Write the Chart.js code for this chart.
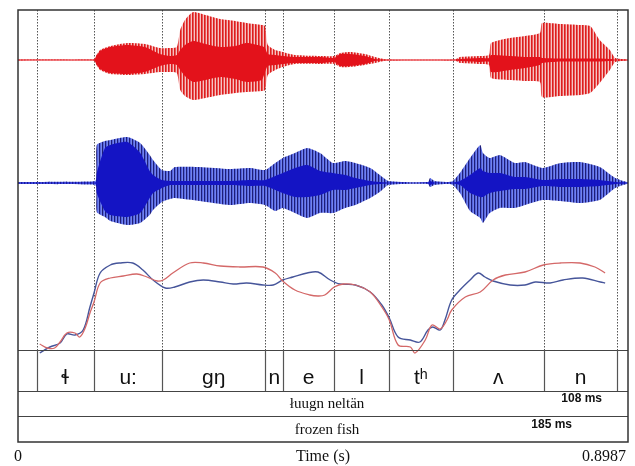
<!DOCTYPE html>
<html>
<head>
<meta charset="utf-8">
<script src="https://cdn.jsdelivr.net/npm/chart.js@4.4.1/dist/chart.umd.min.js"></script>
<style>
html,body{margin:0;padding:0;background:#fff;}
#wrap{width:635px;height:466px;}
</style>
</head>
<body>
<div id="wrap"><canvas id="c" width="635" height="466"></canvas></div>
<script>
// ---------- DATA ----------
const totalDuration = 0.8987; // s
// segment boundaries (s) and labels
const segBounds = [0.0276, 0.112, 0.2126, 0.3643, 0.3909, 0.4656, 0.5466, 0.6404, 0.7745, 0.8829];
const segLabels = ['ɬ', 'u:', 'gŋ', 'n', 'e', 'l', 'tʰ', 'ʌ', 'n'];
const wordLabel = 'łuugn neltän';
const glossLabel = 'frozen fish';
const durationNotes = ['108 ms', '185 ms'];
const axisLabels = ['0', 'Time (s)', '0.8987'];

// Red waveform envelope (arbitrary amplitude units)
const redT = [0, 0.112, 0.113, 0.121, 0.136, 0.161, 0.187, 0.209, 0.224, 0.234, 0.239, 0.246, 0.258, 0.276, 0.298, 0.320, 0.337, 0.359, 0.364, 0.368, 0.379, 0.390, 0.408, 0.445, 0.466, 0.475, 0.489, 0.511, 0.526, 0.544, 0.644, 0.651, 0.681, 0.694, 0.697, 0.725, 0.747, 0.769, 0.772, 0.799, 0.828, 0.843, 0.857, 0.872, 0.880, 0.8987];
const redOuterTop = [0.5, 0.5, 2, 10, 14, 17, 16, 12, 12, 13, 30, 40, 48, 45, 41, 39, 37, 35, 34, 15, 10, 8, 5, 4, 4, 7, 8, 6, 3, 0.5, 0.5, 3, 4, 5, 17, 22, 24, 27, 37, 36, 35, 34, 20, 10, 2, 0.5];
const redOuterBot = [-0.5, -0.5, -2, -10, -14, -15, -14, -12, -12, -13, -30, -36, -40, -38, -35, -33, -32, -31, -30, -15, -10, -7, -4, -4, -4, -7, -7, -5, -3, -0.5, -0.5, -3, -4, -5, -18, -20, -21, -22, -37, -36, -35, -33, -23, -10, -2, -0.5];
const redInnerTop = [0.5, 0.5, 1, 9, 13, 15, 13, 6, 4, 5, 10, 15, 19, 16, 13, 14, 17, 14, 12, 6, 5, 4, 3, 3, 2, 6, 6, 4, 1, 0.5, 0.5, 1, 2, 2, 5, 4, 3, 3, 2, 1.5, 1.5, 1.5, 1.5, 1, 0.5, 0.5];
const redInnerBot = [-0.5, -0.5, -1, -9, -13, -14, -12, -6, -4, -5, -10, -16, -22, -20, -17, -19, -22, -20, -12, -6, -5, -4, -3, -3, -2, -6, -6, -4, -1, -0.5, -0.5, -1, -2, -2, -12, -10, -8, -5, -3, -1.5, -1.5, -1.5, -1.5, -1, -0.5, -0.5];

// Blue waveform envelope (arbitrary amplitude units)
const blueT = [0, 0.106, 0.115, 0.116, 0.128, 0.136, 0.161, 0.180, 0.194, 0.199, 0.212, 0.224, 0.231, 0.268, 0.312, 0.342, 0.364, 0.379, 0.390, 0.408, 0.426, 0.445, 0.464, 0.482, 0.497, 0.519, 0.533, 0.546, 0.604, 0.607, 0.614, 0.639, 0.651, 0.666, 0.681, 0.685, 0.695, 0.710, 0.732, 0.747, 0.773, 0.799, 0.828, 0.857, 0.880, 0.8987];
const blueOuterTop = [1, 1.5, 3, 38, 42, 43, 46, 40, 28, 23, 13, 12, 16, 16, 14, 15, 13, 20, 25, 30, 35, 30, 20, 22, 20, 15, 8, 2, 1, 5, 2, 1.5, 10, 25, 38, 30, 25, 28, 20, 21, 15, 20, 21, 16, 5, 0.5];
const blueOuterBot = [-1, -1.5, -3, -29, -34, -38, -42, -40, -32, -27, -19, -16, -15, -18, -22, -20, -22, -28, -25, -30, -35, -30, -30, -25, -22, -15, -9, -2, -1, -4, -2, -1.5, -10, -28, -35, -40, -30, -25, -25, -22, -17, -18, -20, -17, -5, -0.5];
const blueInnerTop = [0.5, 0.5, 1, 10, 35, 38, 41, 30, 12, 8, 3, 2, 2, 2, 2, 3, 3, 7, 10, 15, 18, 12, 10, 8, 5, 2, 1, 0.5, 0.5, 2, 0.5, 0.5, 2, 8, 15, 12, 10, 10, 6, 6, 3, 4, 4, 3, 1, 0.5];
const blueInnerBot = [-0.5, -0.5, -1, -10, -28, -32, -34, -30, -15, -10, -5, -2, -2, -2, -2, -3, -3, -7, -10, -14, -14, -12, -7, -7, -5, -2, -1, -0.5, -0.5, -2, -0.5, -0.5, -2, -10, -14, -14, -10, -8, -6, -6, -3, -4, -4, -3, -1, -0.5];

// Pitch contours (relative units)
const bluePitchT = [0.032, 0.047, 0.062, 0.072, 0.084, 0.096, 0.106, 0.112, 0.121, 0.136, 0.150, 0.169, 0.184, 0.199, 0.217, 0.231, 0.253, 0.273, 0.298, 0.317, 0.337, 0.361, 0.376, 0.390, 0.405, 0.426, 0.442, 0.460, 0.474, 0.497, 0.519, 0.536, 0.547, 0.560, 0.578, 0.592, 0.604, 0.611, 0.622, 0.629, 0.639, 0.651, 0.666, 0.678, 0.688, 0.700, 0.725, 0.747, 0.762, 0.784, 0.803, 0.832, 0.858, 0.865];
const bluePitch = [3, 9, 13, 22, 21, 26, 49, 63, 83, 91, 93, 93, 86, 76, 68, 69, 74, 76, 74, 72, 73, 71, 71, 76, 79, 83, 84, 76, 72, 71, 64, 51, 38, 19, 16, 14, 26, 29, 26, 36, 56, 66, 76, 83, 79, 75, 71, 71, 74, 73, 76, 78, 74, 73];
const redPitchT = [0.032, 0.043, 0.054, 0.062, 0.072, 0.084, 0.091, 0.099, 0.106, 0.112, 0.121, 0.136, 0.155, 0.175, 0.190, 0.205, 0.214, 0.228, 0.253, 0.273, 0.298, 0.327, 0.361, 0.379, 0.390, 0.408, 0.430, 0.442, 0.452, 0.466, 0.479, 0.497, 0.519, 0.536, 0.547, 0.560, 0.578, 0.585, 0.600, 0.610, 0.622, 0.632, 0.639, 0.659, 0.681, 0.700, 0.718, 0.747, 0.774, 0.799, 0.828, 0.850, 0.865];
const redPitch = [12, 8, 8, 14, 23, 23, 19, 28, 43, 54, 73, 78, 80, 82, 79, 75, 76, 83, 93, 93, 90, 89, 89, 83, 75, 66, 61, 60, 61, 69, 72, 71, 64, 49, 36, 11, 9, 3, 16, 31, 27, 36, 46, 59, 64, 76, 81, 84, 91, 93, 93, 89, 83];

// ---------- helpers ----------
const pts = (t, v) => t.map((x, i) => ({x: x, y: v[i]}));
function stripes(cols) {
  const c = document.createElement('canvas');
  c.width = cols.length; c.height = 4;
  const g = c.getContext('2d');
  cols.forEach((col, i) => { g.fillStyle = col; g.fillRect(i, 0, 1, 4); });
  return g.createPattern(c, 'repeat');
}
const ctx = document.getElementById('c').getContext('2d');
const redStripe = stripes(['#de1c1c', '#e65a5a', '#f6c2c2']);
const blueStripe = stripes(['#1e1e78', '#5262de', '#7384ec']);

function band(data, axis, bg, fill) {
  return {data: data, yAxisID: axis, borderWidth: 0, pointRadius: 0, fill: fill, backgroundColor: bg, tension: 0.2};
}

const tierPlugin = {
  id: 'tiers',
  beforeDatasetsDraw(chart) {
    const g = chart.ctx, xs = chart.scales.x, a = chart.chartArea;
    g.save();
    g.strokeStyle = '#555';
    g.lineWidth = 1;
    g.setLineDash([1.5, 1.5]);
    segBounds.forEach(t => {
      const px = Math.round(xs.getPixelForValue(t)) + 0.5;
      g.beginPath(); g.moveTo(px, a.top); g.lineTo(px, a.top + 340); g.stroke();
    });
    g.restore();
  },
  afterDraw(chart) {
    const g = chart.ctx, xs = chart.scales.x, a = chart.chartArea;
    const L = a.left, R = a.right, T = a.top, B = a.bottom;
    const y1 = T + 340, y2 = T + 381, y3 = T + 406, y4 = B;
    g.save();
    g.strokeStyle = '#444';
    g.lineWidth = 1;
    [y1, y2, y3].forEach(y => { g.beginPath(); g.moveTo(L, y + 0.5); g.lineTo(R, y + 0.5); g.stroke(); });
    g.lineWidth = 1.5;
    g.strokeStyle = '#333';
    g.strokeRect(L, T, R - L, B - T);
    g.lineWidth = 1.2;
    g.strokeStyle = '#555';
    segBounds.forEach(t => {
      const px = Math.round(xs.getPixelForValue(t)) + 0.5;
      g.beginPath(); g.moveTo(px, y1); g.lineTo(px, y2); g.stroke();
    });
    g.fillStyle = '#111';
    g.textAlign = 'center';
    g.textBaseline = 'alphabetic';
    segLabels.forEach((s, i) => {
      g.font = (s === 'ɬ' ? '20px "DejaVu Sans", "Noto Sans", sans-serif' : '21px "Liberation Sans", Arial, sans-serif');
      const cx = (xs.getPixelForValue(segBounds[i]) + xs.getPixelForValue(segBounds[i + 1])) / 2;
      g.fillText(s, cx, y1 + 34);
    });
    const wc = (xs.getPixelForValue(segBounds[0]) + xs.getPixelForValue(segBounds[segBounds.length - 1])) / 2;
    g.font = '15px "Liberation Serif", "Times New Roman", serif';
    g.textBaseline = 'middle';
    g.fillText(wordLabel, wc, (y2 + y3) / 2 + 1);
    g.fillText(glossLabel, wc, (y3 + y4) / 2 + 1);
    g.font = 'bold 12px "Liberation Sans", Arial, sans-serif';
    g.textAlign = 'right';
    g.fillText(durationNotes[0], R - 26, y2 + 8);
    g.fillText(durationNotes[1], R - 56, y3 + 9);
    g.font = '16px "Liberation Serif", "Times New Roman", serif';
    g.textAlign = 'center';
    g.fillText(axisLabels[0], xs.getPixelForValue(0), B + 15);
    g.fillText(axisLabels[1], (L + R) / 2, B + 15);
    g.textAlign = 'right';
    g.fillText(axisLabels[2], xs.getPixelForValue(totalDuration) - 2, B + 15);
    g.restore();
  }
};

// Chart.js paints dataset 0 last (on top): pitch lines, then solid cores, then striped envelopes underneath
new Chart(ctx, {
  type: 'line',
  data: {
    datasets: [
      {data: pts(redPitchT, redPitch), yAxisID: 'yP', borderColor: '#d46868', borderWidth: 1.3, pointRadius: 0, fill: false, tension: 0.35},
      {data: pts(bluePitchT, bluePitch), yAxisID: 'yP', borderColor: '#46559a', borderWidth: 1.4, pointRadius: 0, fill: false, tension: 0.35},
      band(pts(redT, redInnerTop), 'yR', '#e3121b', '+1'),
      band(pts(redT, redInnerBot), 'yR', 'transparent', false),
      band(pts(blueT, blueInnerTop), 'yB', '#1414c4', '+1'),
      band(pts(blueT, blueInnerBot), 'yB', 'transparent', false),
      band(pts(redT, redOuterTop), 'yR', redStripe, '+1'),
      band(pts(redT, redOuterBot), 'yR', 'transparent', false),
      band(pts(blueT, blueOuterTop), 'yB', blueStripe, '+1'),
      band(pts(blueT, blueOuterBot), 'yB', 'transparent', false)
    ]
  },
  options: {
    responsive: false,
    animation: false,
    layout: {padding: {left: 18, right: 7, top: 10, bottom: 24}},
    plugins: {legend: {display: false}, tooltip: {enabled: false}},
    scales: {
      x: {type: 'linear', min: 0, max: totalDuration, display: false},
      yR: {type: 'linear', min: -382, max: 50, display: false},
      yB: {type: 'linear', min: -259, max: 173, display: false},
      yP: {type: 'linear', min: -86, max: 346, display: false}
    }
  },
  plugins: [tierPlugin]
});
</script>
</body>
</html>
